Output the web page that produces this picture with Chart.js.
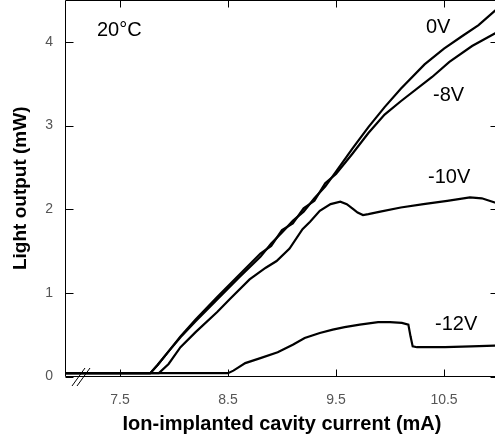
<!DOCTYPE html>
<html>
<head>
<meta charset="utf-8">
<script src="https://cdn.jsdelivr.net/npm/chart.js@4.4.1/dist/chart.umd.min.js"></script>
<style>
  html, body { margin: 0; padding: 0; overflow: hidden; background: #fff; }
  #wrap { width: 498px; height: 442px; }
</style>
</head>
<body>
<div id="wrap"><canvas id="chart" width="498" height="442"></canvas></div>
<script>
// Light output vs ion-implanted cavity current, 20°C, four bias voltages

const xTicks = [7.5, 8.5, 9.5, 10.5];
const yTicks = [0, 1, 2, 3, 4];

const current0V = [7.00, 7.78, 7.85, 7.95, 8.06, 8.20, 8.40, 8.60, 8.80, 8.90, 9.00, 9.10, 9.20, 9.30, 9.40, 9.50, 9.65, 9.80, 9.95, 10.10, 10.32, 10.50, 10.67, 10.82, 10.97, 11.00];
const power0V = [0.04, 0.04, 0.14, 0.30, 0.47, 0.66, 0.92, 1.18, 1.43, 1.59, 1.72, 1.86, 1.97, 2.13, 2.27, 2.45, 2.72, 2.98, 3.22, 3.44, 3.73, 3.92, 4.07, 4.20, 4.37, 4.40];

const current8V = [7.00, 7.78, 7.85, 7.95, 8.06, 8.20, 8.40, 8.60, 8.80, 8.90, 9.00, 9.10, 9.20, 9.30, 9.40, 9.50, 9.65, 9.80, 9.95, 10.10, 10.39, 10.55, 10.76, 10.97, 11.00];
const power8V = [0.04, 0.04, 0.14, 0.30, 0.48, 0.68, 0.95, 1.21, 1.47, 1.56, 1.75, 1.83, 2.01, 2.10, 2.31, 2.42, 2.66, 2.91, 3.13, 3.29, 3.58, 3.76, 3.95, 4.10, 4.12];

const current10V = [7.00, 7.86, 7.95, 8.06, 8.20, 8.40, 8.52, 8.70, 8.85, 8.95, 9.07, 9.19, 9.26, 9.35, 9.45, 9.54, 9.60, 9.66, 9.70, 9.75, 9.80, 9.91, 10.10, 10.31, 10.53, 10.74, 10.85, 10.97, 11.00];
const power10V = [0.04, 0.04, 0.15, 0.35, 0.53, 0.77, 0.93, 1.16, 1.30, 1.38, 1.53, 1.76, 1.85, 1.98, 2.06, 2.09, 2.06, 2.00, 1.96, 1.93, 1.94, 1.97, 2.02, 2.06, 2.10, 2.14, 2.13, 2.08, 2.07];

const current12V = [7.00, 8.50, 8.55, 8.66, 8.80, 8.96, 9.10, 9.21, 9.35, 9.47, 9.58, 9.72, 9.89, 10.00, 10.11, 10.17, 10.19, 10.21, 10.25, 10.51, 10.75, 10.97, 11.00];
const power12V = [0.04, 0.04, 0.07, 0.16, 0.22, 0.29, 0.38, 0.46, 0.52, 0.56, 0.59, 0.62, 0.65, 0.65, 0.64, 0.62, 0.48, 0.36, 0.35, 0.35, 0.36, 0.37, 0.37];

const FONT = "'Liberation Sans', Arial, sans-serif";

function toPoints(xs, ys) {
  return xs.map((x, i) => ({ x: x, y: ys[i] }));
}

function series(label, xs, ys) {
  return {
    label: label,
    data: toPoints(xs, ys),
    borderColor: '#000',
    borderWidth: 2.2,
    pointRadius: 0,
    tension: 0,
    fill: false
  };
}

// text labels placed in data units
const notes = [
  { text: '20°C', x: 7.287, y: 4.14 },
  { text: '0V', x: 10.333, y: 4.17 },
  { text: '-8V', x: 10.398, y: 3.36 },
  { text: '-10V', x: 10.352, y: 2.38 },
  { text: '-12V', x: 10.417, y: 0.62 }
];

// fixed axis box sizes, no automatic label padding
function fixBox(size) {
  return s => {
    if (s.isHorizontal()) s.height = size; else s.width = size;
    s.paddingTop = 0; s.paddingBottom = 0; s.paddingLeft = 0; s.paddingRight = 0;
  };
}

const framePlugin = {
  id: 'frame',
  beforeDatasetsDraw(chart) {
    const { ctx, chartArea: a, scales } = chart;
    const L = Math.round(a.left) - 0.5, T = Math.round(a.top) + 0.5;
    const B = Math.round(a.bottom) - 0.5, R = Math.round(a.right) - 0.5;
    ctx.save();
    ctx.strokeStyle = '#000';
    ctx.lineWidth = 1;
    ctx.beginPath();
    ctx.moveTo(R, T); ctx.lineTo(L, T); ctx.lineTo(L, B); ctx.lineTo(R, B);
    // inward ticks
    xTicks.forEach(v => {
      const px = Math.round(scales.x.getPixelForValue(v)) + 0.5;
      ctx.moveTo(px, B); ctx.lineTo(px, B - 7);
      ctx.moveTo(px, T); ctx.lineTo(px, T + 7);
    });
    yTicks.forEach(v => {
      const py = Math.round(scales.y.getPixelForValue(v)) + 0.5;
      ctx.moveTo(L, py); ctx.lineTo(L + 8, py);
      ctx.moveTo(R, py); ctx.lineTo(R - 7, py);
    });
    ctx.stroke();
    ctx.restore();
  },
  afterDraw(chart) {
    const { ctx, chartArea: a, scales } = chart;
    ctx.save();
    // axis break marks
    const B = Math.round(a.bottom);
    ctx.strokeStyle = '#000';
    ctx.lineWidth = 1;
    ctx.beginPath();
    ctx.moveTo(72, B + 9); ctx.lineTo(85, B - 9);
    ctx.moveTo(77, B + 9); ctx.lineTo(90, B - 9);
    ctx.stroke();
    ctx.fillStyle = '#000';
    ctx.font = '20px ' + FONT;
    ctx.textAlign = 'left';
    ctx.textBaseline = 'middle';
    notes.forEach(n => {
      ctx.fillText(n.text, scales.x.getPixelForValue(n.x), scales.y.getPixelForValue(n.y));
    });
    ctx.restore();
  }
};

new Chart(document.getElementById('chart'), {
  type: 'line',
  data: {
    datasets: [
      series('0V', current0V, power0V),
      series('-8V', current8V, power8V),
      series('-10V', current10V, power10V),
      series('-12V', current12V, power12V)
    ]
  },
  options: {
    responsive: false,
    animation: false,
    devicePixelRatio: 1,
    layout: { padding: 0 },
    scales: {
      x: {
        type: 'linear',
        min: 7,
        max: 11,
        afterBuildTicks: s => { s.ticks = xTicks.map(v => ({ value: v })); },
        afterFit: fixBox(65.5),
        grid: { display: false, drawTicks: false },
        border: { display: false },
        ticks: {
          padding: 15,
          color: '#555',
          font: { family: FONT, size: 14 },
          callback: v => Number(v).toFixed(1)
        },
        title: {
          display: true,
          text: 'Ion-implanted cavity current (mA)',
          color: '#000',
          font: { family: FONT, size: 20, weight: 'bold' },
          padding: { top: 0, bottom: 6 }
        }
      },
      y: {
        type: 'linear',
        min: 0,
        max: 4.5,
        afterBuildTicks: s => { s.ticks = yTicks.map(v => ({ value: v })); },
        afterFit: fixBox(66),
        grid: { display: false, drawTicks: false },
        border: { display: false },
        ticks: {
          padding: 13,
          color: '#555',
          font: { family: FONT, size: 14 }
        },
        title: {
          display: true,
          text: 'Light output (mW)',
          color: '#000',
          font: { family: FONT, size: 19, weight: 'bold' },
          padding: { top: 9, bottom: 0 }
        }
      }
    },
    plugins: {
      legend: { display: false },
      tooltip: { enabled: false }
    }
  },
  plugins: [framePlugin]
});
</script>
</body>
</html>
